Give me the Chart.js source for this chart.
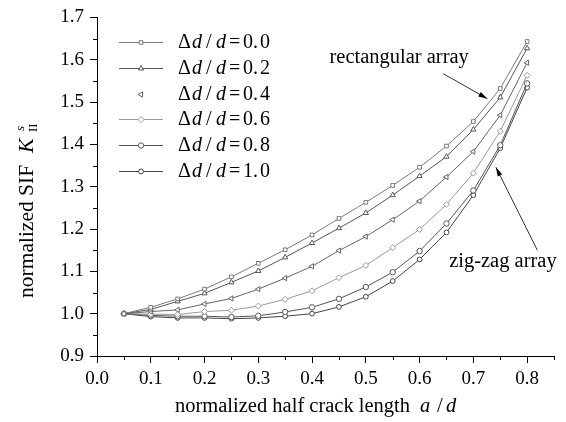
<!DOCTYPE html>
<html>
<head>
<meta charset="utf-8">
<script src="https://cdn.jsdelivr.net/npm/chart.js@4.4.1/dist/chart.umd.min.js"></script>
<style>
  html, body { margin: 0; padding: 0; background: #fff; }
  #wrap { width: 566px; height: 422px; }
</style>
</head>
<body>
<div id="wrap"><canvas id="sifChart" width="566" height="422"></canvas></div>
<script>
// normalized half crack length a/d
const crackLength = [0.05, 0.10, 0.15, 0.20, 0.25, 0.30, 0.35, 0.40, 0.45, 0.50, 0.55, 0.60, 0.65, 0.70, 0.75, 0.80];

// normalized SIF K_II^s, one array per offset ratio Δd/d
const ratioLabels = ['0.0', '0.2', '0.4', '0.6', '0.8', '1.0'];
const sifRatio00 = [1.000, 1.015, 1.035, 1.058, 1.087, 1.119, 1.151, 1.186, 1.225, 1.263, 1.303, 1.346, 1.396, 1.454, 1.532, 1.643];
const sifRatio02 = [1.000, 1.010, 1.029, 1.048, 1.074, 1.101, 1.133, 1.167, 1.202, 1.238, 1.280, 1.325, 1.371, 1.435, 1.511, 1.627];
const sifRatio04 = [1.000, 1.005, 1.009, 1.023, 1.036, 1.058, 1.084, 1.112, 1.149, 1.182, 1.222, 1.266, 1.323, 1.383, 1.469, 1.593];
const sifRatio06 = [1.000, 0.999, 0.998, 1.005, 1.008, 1.018, 1.034, 1.054, 1.085, 1.114, 1.156, 1.199, 1.258, 1.332, 1.431, 1.563];
const sifRatio08 = [1.000, 0.996, 0.994, 0.994, 0.992, 0.995, 1.004, 1.015, 1.035, 1.063, 1.098, 1.148, 1.213, 1.291, 1.398, 1.544];
const sifRatio10 = [1.000, 0.993, 0.990, 0.990, 0.988, 0.990, 0.994, 1.000, 1.016, 1.040, 1.077, 1.128, 1.192, 1.280, 1.391, 1.534];

// axis ticks
const xTicks = [0.0, 0.1, 0.2, 0.3, 0.4, 0.5, 0.6, 0.7, 0.8];
const xMinorTicks = [0.05, 0.15, 0.25, 0.35, 0.45, 0.55, 0.65, 0.75, 0.85];
const yTicks = [0.9, 1.0, 1.1, 1.2, 1.3, 1.4, 1.5, 1.6, 1.7];
const yMinorTicks = [0.95, 1.05, 1.15, 1.25, 1.35, 1.45, 1.55, 1.65];

const seriesValues = [sifRatio00, sifRatio02, sifRatio04, sifRatio06, sifRatio08, sifRatio10];
const seriesStyle = [
  { color: '#7a7a7a', point: 'rect', rot: 0, r: 2.6 },
  { color: '#555555', point: 'triangle', rot: 0, r: 3.0 },
  { color: '#666666', point: 'triangle', rot: -90, r: 3.0 },
  { color: '#9a9a9a', point: 'rectRot', rot: 0, r: 3.0 },
  { color: '#555555', point: 'circle', rot: 0, r: 2.7 },
  { color: '#444444', point: 'circle', rot: 0, r: 2.4 }
];

const SERIF = '"Liberation Serif", "Times New Roman", serif';

// text callouts, placed in data units
const callouts = [
  { text: 'rectangular array', x: 0.562, y: 1.605, from: [0.644, 1.567], to: [0.726, 1.508] },
  { text: 'zig-zag array', x: 0.755, y: 1.122, from: [0.819, 1.150], to: [0.742, 1.346] }
];

function drawLegendText(ctx, x, y, value) {
  const up = '20px ' + SERIF;
  const it = 'italic 20px ' + SERIF;
  const parts = [
    ['\u0394', up, 0], ['d', it, 14], ['/', up, 28], ['d', it, 38],
    ['=', up, 51], [value[0], up, 65], ['.', up, 75], [value[2], up, 82]
  ];
  parts.forEach(([t, f, off]) => {
    ctx.font = f;
    ctx.fillText(t, x + off, y);
  });
}

const decorPlugin = {
  id: 'decor',
  afterDraw(chart) {
    const ctx = chart.ctx;
    const xs = chart.scales.x, ys = chart.scales.y;
    const area = chart.chartArea;
    ctx.save();
    ctx.strokeStyle = '#000';
    ctx.fillStyle = '#000';
    ctx.lineWidth = 1;

    // minor ticks
    ctx.beginPath();
    xMinorTicks.forEach(v => {
      const px = Math.round(xs.getPixelForValue(v)) + 0.5;
      ctx.moveTo(px, area.bottom);
      ctx.lineTo(px, area.bottom + 4);
    });
    yMinorTicks.forEach(v => {
      const py = Math.round(ys.getPixelForValue(v)) + 0.5;
      ctx.moveTo(area.left, py);
      ctx.lineTo(area.left - 4, py);
    });
    ctx.stroke();

    // legend
    const rowY = [42, 68, 94, 119, 145, 171];
    seriesStyle.forEach((s, i) => {
      const y = rowY[i];
      ctx.strokeStyle = s.color;
      if (i !== 2) {
        ctx.beginPath();
        ctx.moveTo(119, y + 0.5);
        ctx.lineTo(163, y + 0.5);
        ctx.stroke();
      }
      const opts = { pointStyle: s.point, rotation: s.rot, radius: s.r, borderWidth: 1 };
      ctx.fillStyle = '#fff';
      Chart.helpers.drawPoint(ctx, opts, 141, y + 0.5);
      ctx.fillStyle = '#000';
      ctx.textBaseline = 'middle';
      ctx.textAlign = 'left';
      drawLegendText(ctx, 178, y + 1, ratioLabels[i]);
    });

    // callouts
    ctx.strokeStyle = '#333';
    ctx.fillStyle = '#000';
    ctx.textAlign = 'center';
    ctx.textBaseline = 'middle';
    callouts.forEach(c => {
      ctx.font = '20.5px ' + SERIF;
      ctx.fillText(c.text, xs.getPixelForValue(c.x), ys.getPixelForValue(c.y));
      const x1 = xs.getPixelForValue(c.from[0]), y1 = ys.getPixelForValue(c.from[1]);
      const x2 = xs.getPixelForValue(c.to[0]), y2 = ys.getPixelForValue(c.to[1]);
      ctx.beginPath();
      ctx.moveTo(x1, y1);
      ctx.lineTo(x2, y2);
      ctx.stroke();
      const a = Math.atan2(y2 - y1, x2 - x1);
      ctx.beginPath();
      ctx.moveTo(x2, y2);
      ctx.lineTo(x2 - 9 * Math.cos(a) + 2.5 * Math.sin(a), y2 - 9 * Math.sin(a) - 2.5 * Math.cos(a));
      ctx.lineTo(x2 - 9 * Math.cos(a) - 2.5 * Math.sin(a), y2 - 9 * Math.sin(a) + 2.5 * Math.cos(a));
      ctx.closePath();
      ctx.fill();
    });

    // axis titles
    ctx.fillStyle = '#000';
    ctx.textAlign = 'left';
    ctx.textBaseline = 'alphabetic';
    ctx.font = '20.5px ' + SERIF;
    ctx.fillText('normalized half crack length', 175, 412);
    ctx.font = 'italic 20.5px ' + SERIF;
    ctx.fillText('a', 420, 412);
    ctx.font = '20.5px ' + SERIF;
    ctx.fillText('/', 437, 412);
    ctx.font = 'italic 20.5px ' + SERIF;
    ctx.fillText('d', 446, 412);

    ctx.save();
    ctx.translate(33, 298);
    ctx.rotate(-Math.PI / 2);
    ctx.font = '21.5px ' + SERIF;
    ctx.fillText('normalized SIF', 0, 0);
    ctx.font = 'italic 22px ' + SERIF;
    ctx.fillText('K', 145, 0);
    ctx.font = 'italic 13px ' + SERIF;
    ctx.fillText('s', 167, -9);
    ctx.font = '13px ' + SERIF;
    ctx.fillText('II', 166, 4);
    ctx.restore();

    ctx.restore();
  }
};

const datasets = seriesValues.map((vals, i) => ({
  label: '\u0394d/d=' + ratioLabels[i],
  data: crackLength.map((x, j) => ({ x: x, y: vals[j] })),
  borderColor: seriesStyle[i].color,
  borderWidth: 1,
  backgroundColor: '#fff',
  pointStyle: seriesStyle[i].point,
  pointRotation: seriesStyle[i].rot,
  pointRadius: seriesStyle[i].r,
  pointBorderWidth: 1,
  pointBorderColor: seriesStyle[i].color,
  pointBackgroundColor: '#fff',
  tension: 0,
  fill: false
}));

const ctx = document.getElementById('sifChart').getContext('2d');
const sifChart = new Chart(ctx, {
  type: 'line',
  data: { datasets: datasets },
  options: {
    responsive: false,
    animation: false,
    layout: { padding: { top: 17, right: 12, bottom: 0, left: 0 } },
    plugins: {
      legend: { display: false },
      tooltip: { enabled: false }
    },
    scales: {
      x: {
        type: 'linear',
        min: 0,
        max: 0.85,
        afterBuildTicks(scale) { scale.ticks = xTicks.map(v => ({ value: v })); },
        afterFit(scale) { scale.height = 66; },
        border: { display: true, color: '#000', width: 1 },
        grid: { drawOnChartArea: false, drawTicks: true, tickLength: 7, color: '#000' },
        ticks: {
          color: '#000',
          padding: 5,
          font: { family: SERIF, size: 19 },
          callback: v => v.toFixed(1)
        }
      },
      y: {
        type: 'linear',
        min: 0.9,
        max: 1.7,
        afterBuildTicks(scale) { scale.ticks = yTicks.map(v => ({ value: v })); },
        afterFit(scale) { scale.width = 97; },
        border: { display: true, color: '#000', width: 1 },
        grid: { drawOnChartArea: false, drawTicks: true, tickLength: 7, color: '#000' },
        ticks: {
          color: '#000',
          padding: 6,
          font: { family: SERIF, size: 19 },
          callback: v => v.toFixed(1)
        }
      }
    }
  },
  plugins: [decorPlugin]
});
</script>
</body>
</html>
